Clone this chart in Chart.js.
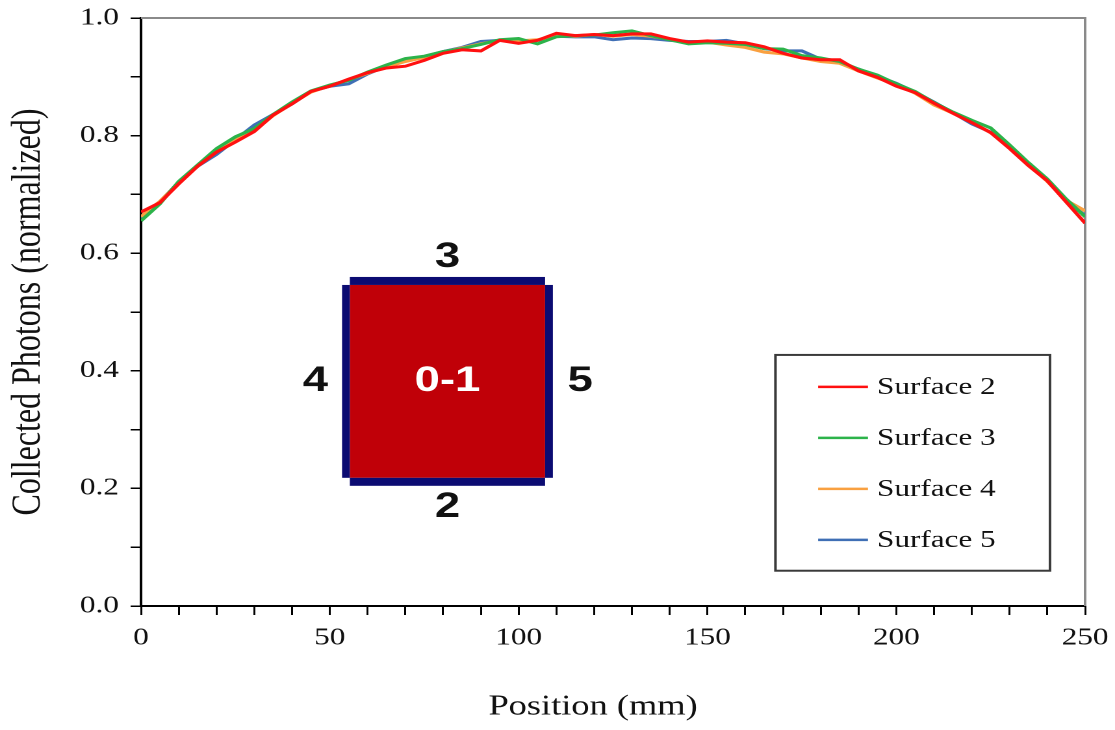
<!DOCTYPE html>
<html>
<head>
<meta charset="utf-8">
<script src="https://cdn.jsdelivr.net/npm/chart.js@4.4.1/dist/chart.umd.min.js"></script>
<style>
  html, body { margin: 0; padding: 0; background: #fff; }
  #wrap { width: 1115px; height: 730px; overflow: hidden; }
  #chart { display: block; width: 1115px; height: 730px; }
</style>
</head>
<body>
<div id="wrap">
  <canvas id="chart" width="858" height="730" style="width:1115px;height:730px"></canvas>
</div>
<script>
// Data (position in mm, normalized photons)
const positions = [0, 5, 10, 15, 20, 25, 30, 35, 40, 45, 50, 55, 60, 65, 70, 75, 80, 85, 90, 95,
  100, 105, 110, 115, 120, 125, 130, 135, 140, 145, 150, 155, 160, 165, 170, 175, 180, 185, 190, 195,
  200, 205, 210, 215, 220, 225, 230, 235, 240, 245, 250];

const surface2 = [0.670, 0.686, 0.718, 0.748, 0.772, 0.789, 0.807, 0.835, 0.854, 0.875, 0.884, 0.896, 0.907, 0.915, 0.918, 0.928, 0.940, 0.946, 0.944, 0.962,
  0.957, 0.962, 0.974, 0.970, 0.972, 0.970, 0.973, 0.973, 0.965, 0.959, 0.961, 0.959, 0.958, 0.951, 0.940, 0.932, 0.929, 0.929, 0.910, 0.899,
  0.884, 0.873, 0.855, 0.838, 0.822, 0.805, 0.778, 0.749, 0.723, 0.687, 0.651];
const surface3 = [0.655, 0.684, 0.722, 0.750, 0.778, 0.798, 0.812, 0.836, 0.857, 0.876, 0.886, 0.894, 0.908, 0.920, 0.931, 0.935, 0.943, 0.948, 0.955, 0.963,
  0.965, 0.956, 0.968, 0.970, 0.971, 0.975, 0.978, 0.970, 0.963, 0.956, 0.958, 0.957, 0.955, 0.948, 0.947, 0.936, 0.932, 0.926, 0.913, 0.903,
  0.888, 0.875, 0.856, 0.840, 0.826, 0.813, 0.784, 0.754, 0.726, 0.692, 0.662];
const surface4 = [0.662, 0.688, 0.720, 0.749, 0.776, 0.795, 0.809, 0.834, 0.855, 0.874, 0.885, 0.895, 0.906, 0.917, 0.926, 0.933, 0.942, 0.949, 0.956, 0.962,
  0.961, 0.963, 0.970, 0.969, 0.972, 0.969, 0.972, 0.969, 0.964, 0.958, 0.959, 0.954, 0.950, 0.942, 0.939, 0.932, 0.926, 0.923, 0.910, 0.898,
  0.887, 0.872, 0.852, 0.838, 0.823, 0.805, 0.781, 0.751, 0.722, 0.690, 0.672];
const surface5 = [0.660, 0.687, 0.721, 0.748, 0.768, 0.793, 0.818, 0.836, 0.854, 0.875, 0.884, 0.888, 0.905, 0.918, 0.928, 0.934, 0.943, 0.950, 0.960, 0.962,
  0.960, 0.962, 0.969, 0.968, 0.968, 0.963, 0.966, 0.965, 0.962, 0.960, 0.960, 0.962, 0.956, 0.948, 0.944, 0.944, 0.930, 0.924, 0.913, 0.901,
  0.889, 0.874, 0.857, 0.839, 0.820, 0.806, 0.783, 0.752, 0.724, 0.689, 0.664];

const seriesLabels = ["Surface 2", "Surface 3", "Surface 4", "Surface 5"];
const seriesColors = ["#ff1010", "#2cb34a", "#f9a040", "#3f6fb5"];
const seriesValues = [surface2, surface3, surface4, surface5];

const xLabelTicks = [0, 50, 100, 150, 200, 250];
const yLabelTicks = [0.0, 0.2, 0.4, 0.6, 0.8, 1.0];

// Inset sketch: centre label and side numbers
const insetLabels = ["0-1", "2", "3", "4", "5"];

const serif = "'Liberation Serif', 'Times New Roman', serif";
const sans = "'Liberation Sans', Arial, sans-serif";

// Gray frame on top and right of the plot
const framePlugin = {
  id: "frame",
  beforeDatasetsDraw(chart) {
    const a = chart.chartArea;
    const ctx = chart.ctx;
    ctx.save();
    ctx.strokeStyle = "#8a8a8a";
    ctx.lineWidth = 2;
    ctx.beginPath();
    ctx.moveTo(a.left, a.top);
    ctx.lineTo(a.right, a.top);
    ctx.lineTo(a.right, a.bottom);
    ctx.stroke();
    ctx.restore();
  },
};

// Red square with navy edges, drawn in data coordinates
const insetPlugin = {
  id: "inset",
  afterDatasetsDraw(chart) {
    const ctx = chart.ctx;
    const xs = chart.scales.x;
    const ys = chart.scales.y;
    const px = (v) => xs.getPixelForValue(v);
    const py = (v) => ys.getPixelForValue(v);

    const l = px(55.3), r = px(107.0), t = py(0.546), b = py(0.218);
    const edge = 8;
    ctx.save();
    ctx.fillStyle = "#c00008";
    ctx.fillRect(l, t, r - l, b - t);
    ctx.fillStyle = "#0b0b72";
    ctx.fillRect(l, t - edge, r - l, edge);       // top
    ctx.fillRect(l, b, r - l, edge);              // bottom
    ctx.fillRect(l - 6, t, 6, b - t);             // left
    ctx.fillRect(r, t, 6, b - t);                 // right

    ctx.font = "bold 35px " + sans;
    ctx.textAlign = "center";
    ctx.textBaseline = "middle";
    const cx = (l + r) / 2, cy = (t + b) / 2;
    ctx.fillStyle = "#ffffff";
    ctx.fillText(insetLabels[0], cx, cy);
    ctx.fillStyle = "#111";
    ctx.fillText(insetLabels[1], cx, py(0.168));
    ctx.fillText(insetLabels[2], cx, py(0.593));
    ctx.fillText(insetLabels[3], px(46.2), cy);
    ctx.fillText(insetLabels[4], px(116.3), cy);
    ctx.restore();
  },
};

// Boxed legend inside the plot, plus the x axis title (sits a bit left of centre)
const legendPlugin = {
  id: "boxLegend",
  afterDraw(chart) {
    const ctx = chart.ctx;
    const xs = chart.scales.x;
    const ys = chart.scales.y;
    const l = xs.getPixelForValue(168), r = xs.getPixelForValue(240.7);
    const t = ys.getPixelForValue(0.427), b = ys.getPixelForValue(0.060);
    ctx.save();
    ctx.fillStyle = "#fff";
    ctx.fillRect(l, t, r - l, b - t);
    ctx.strokeStyle = "#3a3a3a";
    ctx.lineWidth = 2;
    ctx.strokeRect(l, t, r - l, b - t);

    const lx0 = xs.getPixelForValue(179.3), lx1 = xs.getPixelForValue(192.5);
    const tx = xs.getPixelForValue(194.9);
    ctx.font = "24px " + serif;
    ctx.textAlign = "left";
    ctx.textBaseline = "middle";
    seriesLabels.forEach((lab, i) => {
      const y = t + 32 + i * 51;
      ctx.strokeStyle = seriesColors[i];
      ctx.lineWidth = 2.5;
      ctx.beginPath();
      ctx.moveTo(lx0, y);
      ctx.lineTo(lx1, y);
      ctx.stroke();
      ctx.fillStyle = "#111";
      ctx.fillText(lab, tx, y + 1);
    });

    const a = chart.chartArea;
    ctx.font = "28px " + serif;
    ctx.textAlign = "center";
    ctx.fillText("Position (mm)", (a.left + a.right) / 2 - 15.4, 707);
    ctx.restore();
  },
};

const datasets = seriesLabels.map((lab, i) => ({
  label: lab,
  data: positions.map((p, j) => ({ x: p, y: seriesValues[i][j] })),
  borderColor: seriesColors[i],
  backgroundColor: seriesColors[i],
  borderWidth: 3,
  pointRadius: 0,
  tension: 0,
  fill: false,
}));

const chart = new Chart(document.getElementById("chart"), {
  type: "line",
  data: { datasets },
  options: {
    responsive: false,
    devicePixelRatio: 2,
    animation: false,
    layout: { padding: { top: 18, right: 23, bottom: 0, left: 0 } },
    plugins: { legend: { display: false }, tooltip: { enabled: false } },
    scales: {
      x: {
        type: "linear",
        min: 0,
        max: 250,
        afterFit(scale) {
          scale.height = 124;
          scale.paddingLeft = 0;
          scale.paddingRight = 0;
        },
        border: { display: true, color: "#000", width: 2 },
        grid: { drawOnChartArea: false, drawTicks: true, tickLength: 9, color: "#000", lineWidth: 1.5 },
        ticks: {
          stepSize: 10,
          autoSkip: false,
          maxRotation: 0,
          padding: 9,
          color: "#111",
          font: { family: serif, size: 24 },
          callback: (v) => (xLabelTicks.includes(v) ? String(v) : ""),
        },
        title: { display: false },
      },
      y: {
        min: 0,
        max: 1,
        afterFit(scale) {
          scale.width = 108.5;
          scale.paddingTop = 0;
          scale.paddingBottom = 0;
        },
        border: { display: true, color: "#000", width: 2 },
        grid: { drawOnChartArea: false, drawTicks: true, tickLength: 8, color: "#000", lineWidth: 1.5 },
        ticks: {
          stepSize: 0.1,
          autoSkip: false,
          padding: 9,
          color: "#111",
          font: { family: serif, size: 24 },
          callback: (v) => {
            const r = Math.round(v * 10) / 10;
            return yLabelTicks.some((t) => Math.abs(t - r) < 1e-6) ? r.toFixed(1) : "";
          },
        },
        title: {
          display: true,
          text: "Collected Photons (normalized)",
          color: "#111",
          font: { family: serif, size: 32 },
          padding: { top: 3, bottom: 0 },
        },
      },
    },
  },
  plugins: [framePlugin, insetPlugin, legendPlugin],
});
</script>
</body>
</html>
